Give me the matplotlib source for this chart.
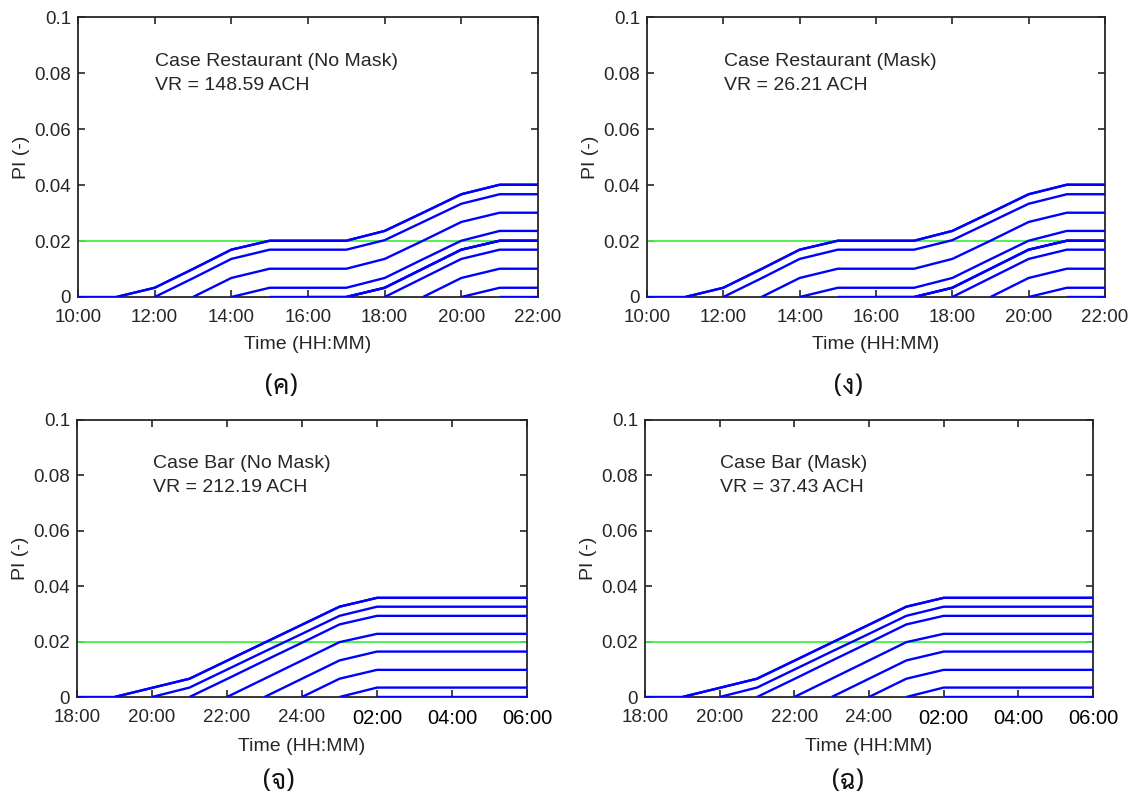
import matplotlib
matplotlib.use("Agg")
import matplotlib.pyplot as plt

plt.rcParams['font.family'] = ['Liberation Sans', 'DejaVu Sans']

# restaurant case: 10:00 - 22:00, one line per arrival hour
rest_hours = list(range(10, 23))
rest_ticks = [10, 12, 14, 16, 18, 20, 22]
rest_ticklabels = ['10:00', '12:00', '14:00', '16:00', '18:00', '20:00', '22:00']
rest_start = [10, 11, 12, 13, 14, 15, 16, 17, 18, 19, 20, 21]
rest_pi = [
    [0, 0, 0.0033, 0.0100, 0.0169, 0.0201, 0.0201, 0.0201, 0.0236, 0.0301, 0.0367, 0.0401, 0.0401],
    [0, 0.0033, 0.0100, 0.0169, 0.0201, 0.0201, 0.0201, 0.0236, 0.0301, 0.0367, 0.0401, 0.0401],
    [0, 0.0067, 0.0136, 0.0169, 0.0169, 0.0169, 0.0203, 0.0268, 0.0333, 0.0367, 0.0367],
    [0, 0.0068, 0.0101, 0.0101, 0.0101, 0.0136, 0.0201, 0.0268, 0.0301, 0.0301],
    [0, 0.0033, 0.0033, 0.0033, 0.0068, 0.0135, 0.0201, 0.0236, 0.0236],
    [0, 0, 0, 0.0033, 0.0101, 0.0169, 0.0201, 0.0201],
    [0, 0, 0.0033, 0.0101, 0.0169, 0.0201, 0.0201],
    [0, 0.0033, 0.0101, 0.0169, 0.0201, 0.0201],
    [0, 0.0068, 0.0136, 0.0169, 0.0169],
    [0, 0.0068, 0.0101, 0.0101],
    [0, 0.0033, 0.0033],
    [0, 0],
]

# bar case: 18:00 - 06:00 (hours past midnight written as 24+)
bar_hours = list(range(18, 31))
bar_ticks = [18, 20, 22, 24, 26, 28, 30]
bar_ticklabels = ['18:00', '20:00', '22:00', '24:00', '02:00', '04:00', '06:00']
bar_start = [18, 19, 20, 21, 22, 23, 24, 25, 26]
bar_pi = [
    [0, 0, 0.0033, 0.0066, 0.0131, 0.0196, 0.0261, 0.0326, 0.0358, 0.0358, 0.0358, 0.0358, 0.0358],
    [0, 0.0033, 0.0066, 0.0131, 0.0196, 0.0261, 0.0326, 0.0358, 0.0358, 0.0358, 0.0358, 0.0358],
    [0, 0.0034, 0.0099, 0.0164, 0.0228, 0.0293, 0.0326, 0.0326, 0.0326, 0.0326, 0.0326],
    [0, 0.0065, 0.0131, 0.0196, 0.0262, 0.0293, 0.0293, 0.0293, 0.0293, 0.0293],
    [0, 0.0066, 0.0132, 0.0198, 0.0228, 0.0228, 0.0228, 0.0228, 0.0228],
    [0, 0.0066, 0.0132, 0.0164, 0.0164, 0.0164, 0.0164, 0.0164],
    [0, 0.0066, 0.0098, 0.0098, 0.0098, 0.0098, 0.0098],
    [0, 0.0034, 0.0034, 0.0034, 0.0034, 0.0034],
    [0, 0, 0, 0, 0],
]

pi_limit = 0.02
yticks = [0, 0.02, 0.04, 0.06, 0.08, 0.1]
yticklabels = ['0', '0.02', '0.04', '0.06', '0.08', '0.1']

titles = ['Case Restaurant (No Mask)', 'Case Restaurant (Mask)', 'Case Bar (No Mask)', 'Case Bar (Mask)']
vr = ['VR = 148.59 ACH', 'VR = 26.21 ACH', 'VR = 212.19 ACH', 'VR = 37.43 ACH']
captions = ['(ค)', '(ง)', '(จ)', '(ฉ)']

ink = '#262626'

fig = plt.figure(figsize=(11.4, 7.98), dpi=100)
W, H = 1140, 798
# axes boxes in pixels: left, right, top, bottom
boxes = [(78, 538, 17, 297), (647, 1105, 17, 297), (77, 527, 420, 697), (645, 1093, 420, 697)]
cap_pos = [(281, 387), (848, 387), (279, 782), (848, 782)]

for i, (l, r, t, b) in enumerate(boxes):
    ax = fig.add_axes([l / W, 1 - b / H, (r - l) / W, (b - t) / H])
    if i < 2:
        hours, starts, pis = rest_hours, rest_start, rest_pi
        ticks, tlabels = rest_ticks, rest_ticklabels
    else:
        hours, starts, pis = bar_hours, bar_start, bar_pi
        ticks, tlabels = bar_ticks, bar_ticklabels
    for s, p in zip(starts, pis):
        x = hours[hours.index(s):]
        ax.plot(x, p, color='#0000ff', lw=1.7, solid_capstyle='butt', zorder=3)
    ax.axhline(pi_limit, color='#44f044', lw=1.3, zorder=2)
    ax.set_xlim(hours[0], hours[-1])
    ax.set_ylim(0, 0.1)
    ax.set_xticks(ticks)
    ax.set_xticklabels(tlabels)
    ax.set_yticks(yticks)
    ax.set_yticklabels(yticklabels)
    ax.tick_params(direction='in', top=True, right=True, length=5, width=1.2,
                   colors=ink, labelsize=13.5)
    ax.tick_params(axis='x', pad=9)
    ax.tick_params(axis='y', pad=5)
    for sp in ax.spines.values():
        sp.set_color(ink)
        sp.set_linewidth(1.3)
    if i >= 2:
        for lab in ax.get_xticklabels()[4:]:
            lab.set_color('black')
            lab.set_fontsize(14.5)
    ax.set_xlabel('Time (HH:MM)', fontsize=14, color=ink, labelpad=7)
    ax.set_ylabel('PI (-)', fontsize=14, color=ink, labelpad=3)
    ax.text(0.168, 0.842, titles[i], transform=ax.transAxes, fontsize=14, color=ink, va='center')
    ax.text(0.168, 0.755, vr[i], transform=ax.transAxes, fontsize=14, color=ink, va='center')
    cx, cy = cap_pos[i]
    fig.text(cx / W, 1 - cy / H, captions[i], family=['Sarabun', 'DejaVu Sans'],
             fontsize=19, ha='center', va='center', color='#111111')

fig.savefig('out.png', dpi=100)
